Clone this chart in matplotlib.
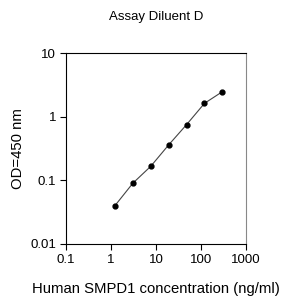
import matplotlib
matplotlib.use("Agg")
import matplotlib.pyplot as plt

# standard curve points
conc = [1.23, 3.07, 7.68, 19.2, 48, 120, 300]
od = [0.040, 0.090, 0.166, 0.36, 0.75, 1.62, 2.47]

x_ticks = [0.1, 1, 10, 100, 1000]
x_labels = ["0.1", "1", "10", "100", "1000"]
y_ticks = [0.01, 0.1, 1, 10]
y_labels = ["0.01", "0.1", "1", "10"]

plt.rcParams["font.family"] = ["Liberation Sans", "DejaVu Sans"]

fig = plt.figure(figsize=(2.83, 3.03), dpi=100)
ax = fig.add_axes([0.233, 0.195, 0.636, 0.63])

ax.plot(conc, od, color="#444444", linewidth=0.8, marker="o",
        markersize=3.5, markerfacecolor="black", markeredgecolor="black")

ax.set_xscale("log")
ax.set_yscale("log")
ax.set_xlim(0.1, 1000)
ax.set_ylim(0.01, 10)
ax.set_xticks(x_ticks)
ax.set_xticklabels(x_labels)
ax.set_yticks(y_ticks)
ax.set_yticklabels(y_labels)
ax.minorticks_off()
ax.tick_params(direction="out", length=4, width=0.8, labelsize=9.5, pad=3)

for side in ["left", "bottom", "top"]:
    ax.spines[side].set_linewidth(0.8)
    ax.spines[side].set_color("black")
ax.spines["right"].set_color("#888888")
ax.spines["right"].set_linewidth(0.8)

ax.set_title("Assay Diluent D", fontsize=9.5, pad=24)
ax.set_xlabel("Human SMPD1 concentration (ng/ml)", fontsize=10.7, labelpad=12)
ax.set_ylabel("OD=450 nm", fontsize=10.7, labelpad=4)

fig.savefig("out.png", dpi=100)
